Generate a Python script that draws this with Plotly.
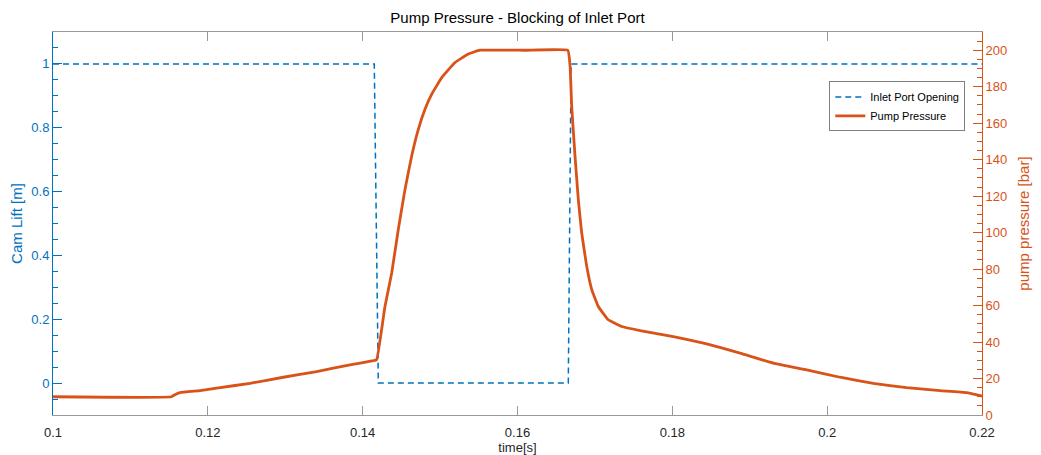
import plotly.graph_objects as go

# ---- data ----
t_inlet = [0.1, 0.1415, 0.14202, 0.16656, 0.16692, 0.22]
lift = [1, 1, 0, 0, 1, 1]

t_press = [0.1, 0.1153, 0.1158, 0.1164, 0.1190, 0.12114, 0.12545, 0.12975,
           0.13406, 0.13836, 0.14137, 0.1418, 0.14288, 0.14375, 0.1446,
           0.14547, 0.14633, 0.14719, 0.14805, 0.14892, 0.15021, 0.15193,
           0.15364, 0.15516, 0.1609, 0.1665, 0.16679, 0.167, 0.16743, 0.16786,
           0.16829, 0.16894, 0.16959, 0.17044, 0.17173, 0.17346, 0.17583,
           0.18013, 0.18444, 0.18875, 0.19305, 0.19736, 0.20166, 0.20596,
           0.21027, 0.21458, 0.21802, 0.22]
pressure = [10, 10, 11.3, 12.3, 13.4, 14.7, 17.4, 20.7,
            23.8, 27.5, 29.8, 30.3, 59.5, 77.9, 101.7,
            123.7, 142, 156.6, 167.6, 175.9, 185, 193.3,
            197.9, 200, 200, 200, 191.4, 169.4, 142, 118,
            99.9, 81.5, 68.7, 59.5, 52.2, 48.5, 46.3,
            43, 39, 33.9, 28.4, 24.7, 20.7, 17.4,
            15, 13.4, 12.3, 10.4]

x_ticks = [0.1, 0.12, 0.14, 0.16, 0.18, 0.2, 0.22]
x_tick_labels = ["0.1", "0.12", "0.14", "0.16", "0.18", "0.2", "0.22"]

BLUE = "#0072BD"
ORANGE = "#D95319"
GRAY = "#262626"
FONT = "Liberation Sans, Arial, Helvetica, sans-serif"

fig = go.Figure()
fig.add_trace(go.Scatter(x=t_inlet, y=lift, mode="lines", name="Inlet Port Opening",
                         line=dict(color=BLUE, width=1.5, dash="6px,4px"), yaxis="y"))
fig.add_trace(go.Scatter(x=t_press, y=pressure, mode="lines", name="Pump Pressure",
                         line=dict(color=ORANGE, width=2.8, shape="spline", smoothing=0.3),
                         yaxis="y2"))

fig.update_layout(
    width=1033, height=447,
    margin=dict(l=45, r=59, t=24, b=40),
    paper_bgcolor="white", plot_bgcolor="white",
    font=dict(family=FONT, size=13, color=GRAY),
    showlegend=True,
    title=dict(text="Pump Pressure - Blocking of Inlet Port", x=0.5, xref="paper",
               xanchor="center", y=0.979, yref="container", yanchor="middle",
               font=dict(size=15, color="#000000", family=FONT)),
    xaxis=dict(range=[0.1, 0.22], tickvals=x_ticks, ticktext=x_tick_labels,
               ticks="inside", ticklen=9, tickcolor="#999999", tickwidth=1,
               showline=True, linecolor="#999999", linewidth=1, mirror="ticks",
               showgrid=False, zeroline=False, ticklabelstandoff=5,
               tickfont=dict(size=13, color=GRAY),
               title=dict(text="time[s]", standoff=2, font=dict(size=13, color=GRAY)),
               automargin=False),
    yaxis=dict(range=[-0.1, 1.1], tick0=0, dtick=0.2, ticks="inside", ticklen=9,
               tickcolor=BLUE, showline=True, linecolor=BLUE, linewidth=1,
               showgrid=False, zeroline=False,
               minor=dict(ticks="inside", dtick=0.05, tick0=0, ticklen=5, tickcolor=BLUE),
               tickfont=dict(size=13, color=BLUE),
               title=dict(text="Cam Lift [m]", standoff=12, font=dict(size=15, color=BLUE)),
               automargin=False),
    yaxis2=dict(range=[0, 210], tick0=0, dtick=20, overlaying="y", side="right",
                ticks="inside", ticklen=9, tickcolor=ORANGE, showline=True,
                linecolor=ORANGE, linewidth=1, showgrid=False, zeroline=False,
                minor=dict(ticks="inside", dtick=5, tick0=0, ticklen=5, tickcolor=ORANGE),
                tickfont=dict(size=13, color=ORANGE),
                title=dict(text="pump pressure [bar]", standoff=12, font=dict(size=15, color=ORANGE)),
                automargin=False),
    legend=dict(x=0.982, y=0.871, xanchor="right", yanchor="top",
                bgcolor="white", bordercolor="#7f7f7f", borderwidth=1,
                font=dict(size=11, color="#000000", family=FONT),
                tracegroupgap=0, itemwidth=30),
)

fig.write_html("out.html")
